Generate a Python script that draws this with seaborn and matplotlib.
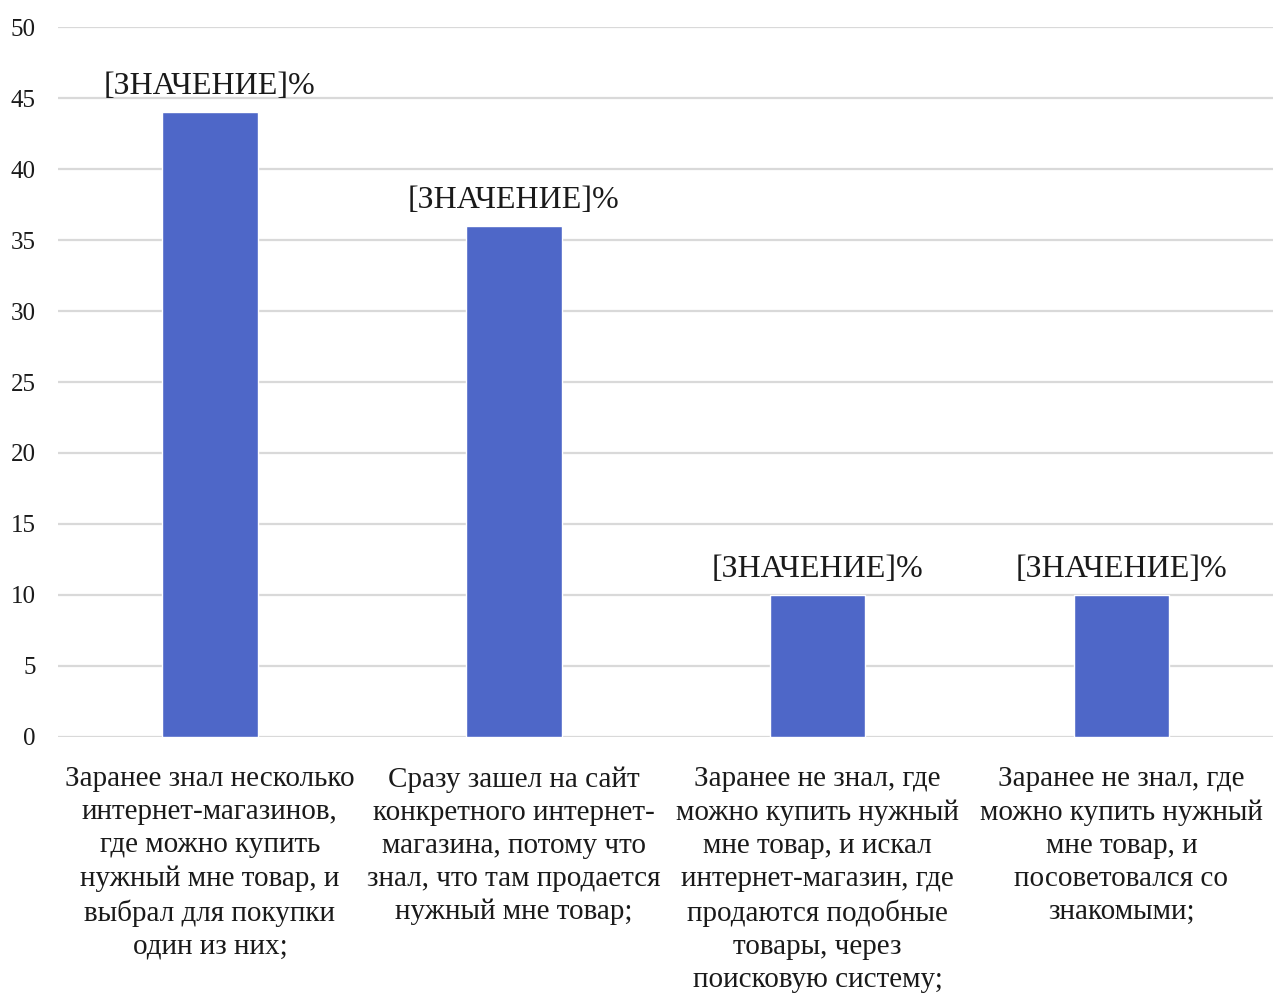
import matplotlib
matplotlib.use("Agg")
import matplotlib.pyplot as plt
import seaborn as sns
import pandas as pd

categories = [
    "Заранее знал несколько\nинтернет-магазинов,\nгде можно купить\nнужный мне товар, и\nвыбрал для покупки\nодин из них;",
    "Сразу зашел на сайт\nконкретного интернет-\nмагазина, потому что\nзнал, что там продается\nнужный мне товар;",
    "Заранее не знал, где\nможно купить нужный\nмне товар, и искал\nинтернет-магазин, где\nпродаются подобные\nтовары, через\nпоисковую систему;",
    "Заранее не знал, где\nможно купить нужный\nмне товар, и\nпосоветовался со\nзнакомыми;",
]
values = [44, 36, 10, 10]
bar_labels = ["[ЗНАЧЕНИЕ]%"] * 4
y_ticks = [0, 5, 10, 15, 20, 25, 30, 35, 40, 45, 50]

sns.set_theme(style="white")
plt.rcParams["font.family"] = ["Liberation Serif", "DejaVu Serif"]

df = pd.DataFrame({"category": categories, "value": values})

fig = plt.figure(figsize=(12.74, 9.97), dpi=100)
ax = fig.add_axes([0.0455, 0.2608, 0.954, 0.7121])

sns.barplot(data=df, x="category", y="value", color="#4E67C8",
            width=0.315, saturation=1, ax=ax, zorder=3)

ax.set_ylim(0, 50)
ax.set_yticks(y_ticks)
ax.set_yticklabels([str(t) for t in y_ticks], fontsize=18, color="#1a1a1a")
ax.yaxis.grid(True, color="#D9D9D9", linewidth=1.6, zorder=0)
ax.xaxis.grid(False)
ax.set_axisbelow(True)
for s in ax.spines.values():
    s.set_visible(False)
ax.tick_params(axis="y", length=0, pad=16)
ax.tick_params(axis="x", length=0, pad=21)
ax.set_xlabel("")
ax.set_ylabel("")

for lbl in ax.get_xticklabels():
    lbl.set_fontsize(21)
    lbl.set_linespacing(1.35)
    lbl.set_color("#1a1a1a")
    lbl.set_horizontalalignment("center")
    lbl.set_verticalalignment("top")

ax.bar_label(ax.containers[0], labels=bar_labels, padding=8,
             fontsize=23, color="#1a1a1a")

fig.savefig("out.png", dpi=100)
